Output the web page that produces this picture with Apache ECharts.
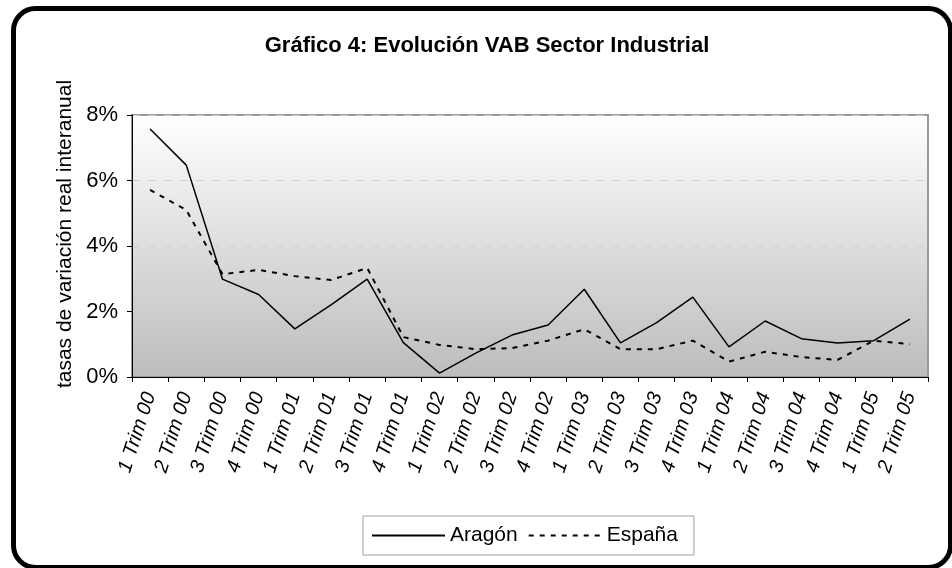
<!DOCTYPE html>
<html>
<head>
<meta charset="utf-8">
<script src="https://cdn.jsdelivr.net/npm/echarts@6/dist/echarts.min.js"></script>
<style>
html,body{margin:0;padding:0;background:#fff;}
#c{width:952px;height:568px;}
</style>
</head>
<body>
<div id="c"></div>
<script>
const categories = ['1 Trim 00','2 Trim 00','3 Trim 00','4 Trim 00','1 Trim 01','2 Trim 01','3 Trim 01','4 Trim 01','1 Trim 02','2 Trim 02','3 Trim 02','4 Trim 02','1 Trim 03','2 Trim 03','3 Trim 03','4 Trim 03','1 Trim 04','2 Trim 04','3 Trim 04','4 Trim 04','1 Trim 05','2 Trim 05'];
const aragon = [7.57,6.47,2.99,2.52,1.47,2.2,2.99,1.05,0.12,0.73,1.28,1.59,2.68,1.04,1.66,2.44,0.92,1.71,1.17,1.04,1.11,1.77];
const espana = [5.71,5.1,3.14,3.27,3.08,2.96,3.33,1.22,0.98,0.85,0.88,1.11,1.46,0.85,0.85,1.11,0.47,0.77,0.61,0.52,1.11,1.0];
const yTicks = [0,2,4,6,8];

const FONT = '"Liberation Sans", Arial, sans-serif';
const chart = echarts.init(document.getElementById('c'), null, {renderer:'canvas'});
chart.setOption({
  animation:false,
  backgroundColor:'#fff',
  title:{
    text:'Gráfico 4: Evolución VAB Sector Industrial',
    left:482, textAlign:'center', top:30,
    textStyle:{fontFamily:FONT, fontWeight:'bold', fontSize:22, color:'#000'}
  },
  graphic:[{
    type:'rect', left:11, top:6, z:100,
    shape:{width:937, height:559, r:22},
    style:{fill:'none', stroke:'#000', lineWidth:5}
  }],
  legend:{
    left:363, top:516,
    padding:[9,16,9,8],
    itemWidth:73, itemHeight:14, itemGap:10,
    borderColor:'#a0a0a0', borderWidth:1,
    itemStyle:{opacity:0},
    textStyle:{fontFamily:FONT, fontSize:21, color:'#000'},
    data:['Aragón','España']
  },
  grid:{
    left:132, right:24, top:115, bottom:191,
    show:true, borderColor:'#999', borderWidth:2,
    backgroundColor:new echarts.graphic.LinearGradient(0,0,0,1,[
      {offset:0,color:'#ffffff'},{offset:1,color:'#bcbcbc'}
    ])
  },
  xAxis:{
    type:'category', data:categories, boundaryGap:true,
    axisLine:{lineStyle:{color:'#000', width:1}},
    axisTick:{show:true, length:5, lineStyle:{color:'#000'}},
    axisLabel:{rotate:72, margin:16, interval:0, fontFamily:FONT, fontSize:20, fontStyle:'italic', color:'#000'},
    splitLine:{show:false}
  },
  yAxis:{
    type:'value', min:yTicks[0], max:yTicks[yTicks.length-1], interval:2,
    name:'tasas de variación real interanual', nameLocation:'middle', nameGap:56,
    nameTextStyle:{fontFamily:FONT, fontSize:21, color:'#000', padding:[0,0,0,24]},
    axisLine:{show:true, lineStyle:{color:'#000', width:1}},
    axisTick:{show:true, length:5, lineStyle:{color:'#000'}},
    axisLabel:{formatter:'{value}%', margin:14, fontFamily:FONT, fontSize:22, color:'#000'},
    splitLine:{show:true, lineStyle:{color:'#d0d0d0', type:[8,8], width:1}}
  },
  series:[
    {name:'Aragón', type:'line', data:aragon, symbol:'none', symbolSize:0, itemStyle:{color:'#000'},
     lineStyle:{color:'#000', width:1.5, type:'solid'}},
    {name:'España', type:'line', data:espana, symbol:'none', symbolSize:0, itemStyle:{color:'#000'},
     lineStyle:{color:'#000', width:2, type:[5,6]}}
  ]
});
</script>
</body>
</html>
